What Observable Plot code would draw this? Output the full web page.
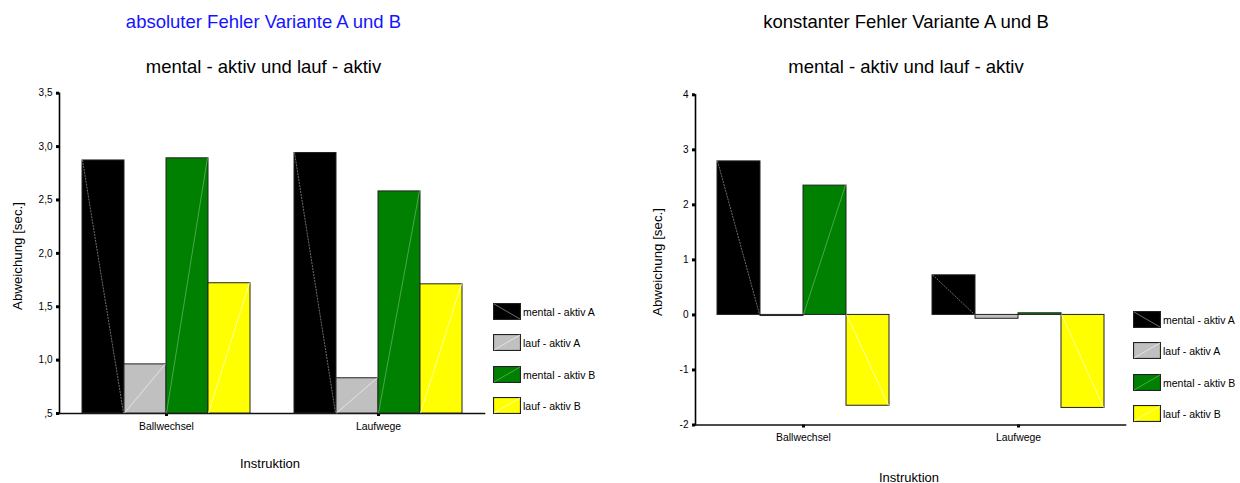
<!DOCTYPE html>
<html>
<head>
<meta charset="utf-8">
<script src="https://cdn.jsdelivr.net/npm/d3@7"></script>
<script src="https://cdn.jsdelivr.net/npm/@observablehq/plot@0.6"></script>
<style>
  html, body { margin: 0; padding: 0; background: #fff; }
  body { font-family: "Liberation Sans", Arial, sans-serif; }
  #wrap { position: relative; width: 1240px; height: 483px; overflow: hidden; }
  .panel { position: absolute; top: 0; width: 620px; height: 483px; }
  .panel svg { position: absolute; top: 0; left: 0; }
  .t { position: absolute; white-space: nowrap; line-height: 1; transform: translate(-50%, -50%); color: #000; }
  .rot { transform: translate(-50%, -50%) rotate(-90deg); }
  .leg { position: absolute; }
  .leg .row { position: absolute; left: 0; width: 140px; height: 16px; }
  .leg svg { position: absolute; left: 0; top: 0; }
  .leg span { position: absolute; left: 30px; top: 4px; font-size: 10.5px; line-height: 1; white-space: nowrap; }
</style>
</head>
<body>
<div id="wrap"></div>
<script>
// ---- data ----
const groups = ["Ballwechsel", "Laufwege"];
const series = ["mental - aktiv A", "lauf - aktiv A", "mental - aktiv B", "lauf - aktiv B"];
const seriesColors = ["#000000", "#c0c0c0", "#008000", "#ffff00"];
const diagColors = ["#8a8a8a", "#ececec", "#5fae5f", "#ffffc8"];

// absoluter Fehler (values per series, for Ballwechsel / Laufwege)
const absBallwechsel = [2.87, 0.96, 2.89, 1.72];
const absLaufwege   = [2.94, 0.83, 2.58, 1.71];
// konstanter Fehler
const konstBallwechsel = [2.79, -0.02, 2.35, -1.65];
const konstLaufwege    = [0.72, -0.07, 0.03, -1.69];

const absTicks = [0.5, 1.0, 1.5, 2.0, 2.5, 3.0, 3.5];
const absTickLabels = [",5", "1,0", "1,5", "2,0", "2,5", "3,0", "3,5"];
const konstTicks = [-2, -1, 0, 1, 2, 3, 4];
const konstTickLabels = ["-2", "-1", "0", "1", "2", "3", "4"];

const titleLeft = "absoluter Fehler Variante A und B";
const titleRight = "konstanter Fehler Variante A und B";
const subtitle = "mental - aktiv und lauf - aktiv";
const yTitle = "Abweichung [sec.]";
const xTitle = "Instruktion";

const FONT = "'Liberation Sans', Arial, sans-serif";

function rowsFrom(b, l) {
  const rows = [];
  groups.forEach((g, gi) => {
    const vals = gi === 0 ? b : l;
    series.forEach((s, si) => rows.push({group: g, series: s, si, value: vals[si]}));
  });
  return rows;
}

function makePanel(left, cfg) {
  const wrap = document.getElementById("wrap");
  const panel = document.createElement("div");
  panel.className = "panel";
  panel.style.left = left + "px";
  wrap.appendChild(panel);

  const dims = {
    width: 620, height: 483,
    marginLeft: cfg.ml, marginRight: cfg.mr, marginTop: cfg.mt, marginBottom: cfg.mb
  };
  const rows = rowsFrom(cfg.b, cfg.l);

  // axes layer
  const axes = Plot.plot({
    ...dims,
    style: {background: "transparent", fontFamily: FONT, color: "#000", overflow: "visible"},
    x: {domain: groups, paddingInner: 0.2, paddingOuter: 0.1, label: null},
    y: {domain: cfg.domain, label: null},
    marks: [
      Plot.axisY({
        ticks: cfg.ticks,
        tickFormat: d => cfg.tickLabels[cfg.ticks.indexOf(d)],
        tickSize: 3, strokeWidth: 3, tickPadding: 4, fontSize: 10, label: null, stroke: "#000"
      }),
      Plot.axisX({tickSize: 3, strokeWidth: 3, tickPadding: cfg.xpad, fontSize: 10.4, label: null, stroke: "#000"}),
      Plot.frame({anchor: "left", stroke: "#000", strokeWidth: 1.6}),
      Plot.frame({anchor: "bottom", stroke: "#111", strokeWidth: 1.6})
    ]
  });
  panel.appendChild(axes);

  // bars layer
  const bars = Plot.plot({
    ...dims,
    style: {background: "transparent", fontFamily: FONT, overflow: "visible"},
    fx: {domain: groups, paddingInner: 0.2, paddingOuter: 0.1, axis: null, label: null},
    x: {domain: series, padding: 0, axis: null},
    y: {domain: cfg.domain, axis: null},
    color: {domain: series, range: seriesColors},
    marks: [
      Plot.barY(rows, {
        fx: "group", x: "series", y1: cfg.base, y2: "value",
        fill: "series", stroke: "#222", strokeWidth: 1,
        render: (index, scales, values, dimensions, context, next) => {
          const g = next(index, scales, values, dimensions, context);
          const bwRaw = scales.x && scales.x.bandwidth;
          const bw = typeof bwRaw === "function" ? bwRaw() : bwRaw;
          if (!bw || !values.x) return g;
          const sel = d3.select(g);
          for (const i of index) {
            const r = rows[i];
            const x1 = values.x[i] + 0.5, x2 = values.x[i] + bw - 0.5;
            const yb = values.y1[i], yv = values.y2[i];
            if (Math.abs(yb - yv) < 4) continue;
            const rev = r.si === 0;
            sel.append("line")
              .attr("x1", x1).attr("x2", x2)
              .attr("y1", rev ? yv : yb).attr("y2", rev ? yb : yv)
              .attr("stroke", diagColors[r.si]).attr("stroke-width", 0.8)
              .attr("stroke-dasharray", r.si === 0 ? "2,1" : null);
          }
          return g;
        }
      })
    ]
  });
  panel.appendChild(bars);

  // texts
  const addText = (txt, x, y, size, extra = "", color = "#000") => {
    const d = document.createElement("div");
    d.className = "t" + extra;
    d.textContent = txt;
    d.style.left = x + "px";
    d.style.top = y + "px";
    d.style.fontSize = size + "px";
    d.style.color = color;
    wrap.appendChild(d);
  };
  addText(cfg.title, cfg.titleX, 22, 18.5, "", cfg.titleColor);
  addText(subtitle, cfg.titleX, 67, 18.5);
  addText(yTitle, cfg.yTitleX, cfg.yTitleY, 13.3, " rot");
  addText(xTitle, cfg.xTitleX, cfg.xTitleY, 13);

  // legend
  const leg = document.createElement("div");
  leg.className = "leg";
  leg.style.left = cfg.legX + "px";
  leg.style.top = cfg.legY + "px";
  series.forEach((s, si) => {
    const row = document.createElement("div");
    row.className = "row";
    row.style.top = (si * 31.6) + "px";
    const sw = d3.create("svg").attr("width", 28).attr("height", 17);
    sw.append("rect").attr("x", 0.5).attr("y", 0.5).attr("width", 27).attr("height", 16)
      .attr("fill", seriesColors[si]).attr("stroke", "#222").attr("stroke-width", 1.2);
    const down = si === 0;
    sw.append("line").attr("x1", 1).attr("x2", 27)
      .attr("y1", down ? 1 : 16).attr("y2", down ? 16 : 1)
      .attr("stroke", diagColors[si]).attr("stroke-width", 0.8);
    row.appendChild(sw.node());
    const sp = document.createElement("span");
    sp.textContent = s;
    row.appendChild(sp);
    leg.appendChild(row);
  });
  wrap.appendChild(leg);
}

makePanel(0, {
  b: absBallwechsel, l: absLaufwege, base: 0.5,
  domain: [0.5, 3.5], ticks: absTicks, tickLabels: absTickLabels,
  ml: 59, mr: 136, mt: 92.7, mb: 70, xpad: 6,
  title: titleLeft, titleColor: "#1414ff", titleX: 263.5,
  yTitleX: 18, yTitleY: 256, xTitleX: 270, xTitleY: 463,
  legX: 493, legY: 302.5
});

makePanel(620, {
  b: konstBallwechsel, l: konstLaufwege, base: 0,
  domain: [-2, 4], ticks: konstTicks, tickLabels: konstTickLabels,
  ml: 75, mr: 115, mt: 94.3, mb: 58.5, xpad: 6,
  title: titleRight, titleColor: "#000", titleX: 906,
  yTitleX: 658, yTitleY: 262, xTitleX: 909, xTitleY: 477,
  legX: 1133, legY: 310.5
});
</script>
</body>
</html>
